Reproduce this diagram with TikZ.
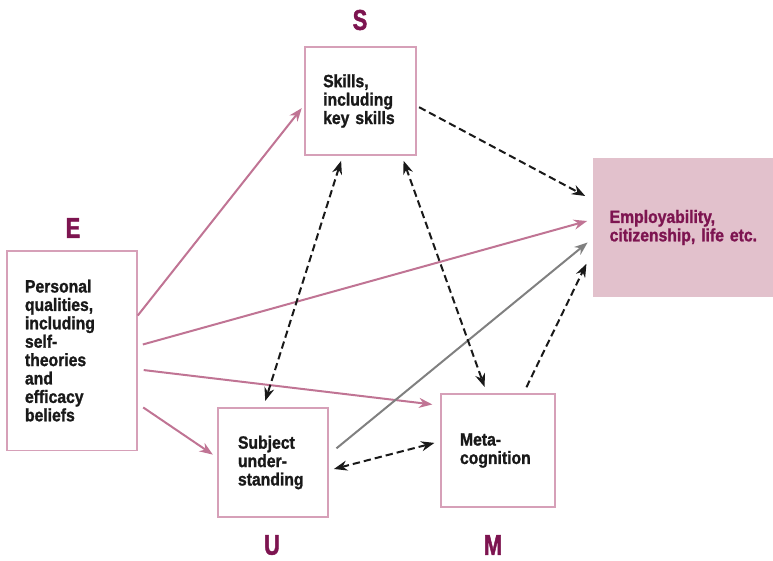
\documentclass[tikz,border=0pt]{standalone}
\usepackage{fontspec}
\setmainfont[FakeStretch=0.88,BoldFeatures={FakeBold=1.3}]{Liberation Sans}
\newfontfamily\letterfont[FakeStretch=0.76,BoldFeatures={FakeBold=1.5}]{Liberation Sans}
\usepackage{tikz}
\usetikzlibrary{arrows.meta}

\definecolor{boxline}{RGB}{214,160,184}
\definecolor{boxfill}{RGB}{226,193,204}
\definecolor{arrpink}{RGB}{192,116,148}
\definecolor{lettercol}{RGB}{125,20,80}
\definecolor{greyline}{RGB}{128,128,128}

\begin{document}
\begin{tikzpicture}[x=0.75pt,y=-0.75pt,
    box/.style={draw=boxline,line width=1.1pt,inner sep=0pt,align=left,
      text=black!90,font=\bfseries\fontsize{13.4}{13.8}\selectfont},
    letter/.style={text=lettercol,font=\letterfont\bfseries\fontsize{21.5}{21.5}\selectfont},
    tip/.style={-{Stealth[length=10pt,width=7.5pt]}},
    pinkarrow/.style={tip,draw=arrpink,line width=1.5pt},
    greyarrow/.style={tip,draw=greyline,line width=1.5pt},
    dasharrow/.style={tip,draw=black!90,line width=1.5pt,dash pattern=on 5.5pt off 3pt},
    dashboth/.style={dasharrow,{Stealth[length=10pt,width=7.5pt]}-{Stealth[length=10pt,width=7.5pt]}}]
      \useasboundingbox (0,0) rectangle (773,560);

      \node[box,minimum width=97.5pt,minimum height=149.6pt,text width=70.5pt] (qual) at (72,350.5)
        {Personal\\qualities,\\including\\self-\\theories\\and\\efficacy\\beliefs};
      \node[box,minimum width=83.25pt,minimum height=81pt,text width=56pt] (skills) at (360.5,101)
        {Skills,\\including\\key~skills};
      \node[box,minimum width=82.5pt,minimum height=81.75pt,text width=52.5pt] (subj) at (273,462.5)
        {Subject\\under-\\standing};
      \node[box,minimum width=85.5pt,minimum height=84.75pt,text width=57pt] (meta) at (498,450.5)
        {Meta-\\cognition};
      \node[box,draw=none,fill=boxfill,text=lettercol,minimum width=135pt,minimum height=104.6pt,text width=110pt] (employ) at (683,227.5)
        {Employability,\\citizenship,~life~etc.};

      \node[letter] (E) at (73,228) {E};
      \node[letter] (S) at (360,20) {S};
      \node[letter] (U) at (272,545) {U};
      \node[letter] (M) at (493,545) {M};

      \draw[pinkarrow,shorten >=3pt] (qual.28.6) -- (skills.184);
      \draw[pinkarrow,shorten <=4pt,shorten >=4pt] (qual.4) -- (employ.175);
      \draw[pinkarrow,shorten <=4.5pt,shorten >=6pt] (qual.-16) -- (meta.142.6);
      \draw[pinkarrow,shorten <=5pt,shorten >=4pt] (qual.-39) -- (subj.175);
      \draw[greyarrow,shorten <=7.5pt,shorten >=4.5pt] (subj.8.3) -- (employ.187.3);

      \draw[dasharrow,shorten <=2pt,shorten >=6pt] (skills.-5) -- (employ.163);
      \draw[dasharrow,shorten <=5pt,shorten >=10pt] (meta.66) -- (employ.195);
      \draw[dashboth,shorten <=4pt,shorten >=5pt] (skills.252.5) -- (subj.100.6);
      \draw[dashboth,shorten <=4pt,shorten >=5pt] (skills.-53.7) -- (meta.101.5);
      \draw[dashboth,shorten <=4pt,shorten >=4.5pt] (subj.-8.1) -- (meta.171);
    \end{tikzpicture}
\end{document}
